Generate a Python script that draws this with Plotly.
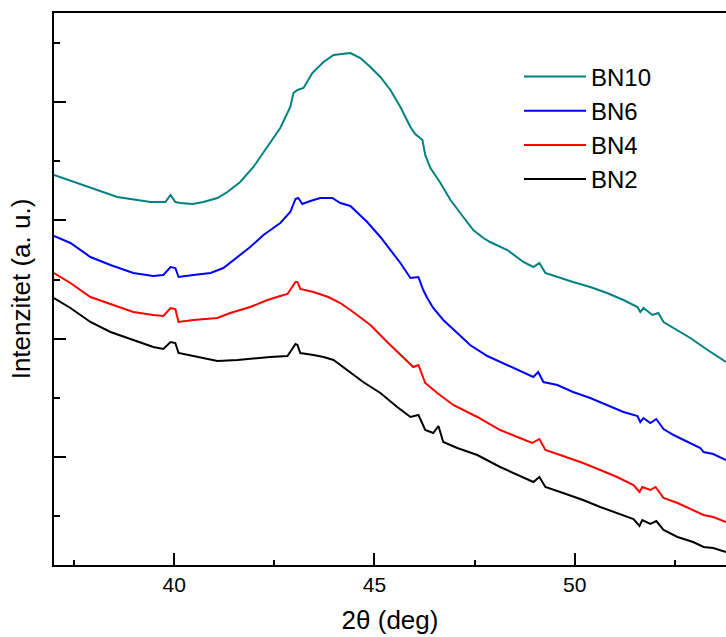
import plotly.graph_objects as go

# 2theta (deg) and intensity (a.u.)
bn10_x = [37.00, 37.74, 38.58, 39.41, 39.78, 39.91, 40.03, 40.16, 40.46, 40.73, 41.08, 41.33, 41.65, 41.98,
          42.23, 42.40, 42.65, 42.90, 42.98, 43.08, 43.23, 43.45, 43.73, 43.98, 44.40, 44.65, 44.90, 45.15,
          45.40, 45.65, 45.90, 46.02, 46.20, 46.27, 46.40, 46.65, 46.90, 47.22, 47.47, 47.72, 47.89, 48.32,
          48.72, 48.97, 49.12, 49.27, 49.57, 49.96, 50.39, 50.81, 51.22, 51.57, 51.64, 51.72, 51.94, 52.09,
          52.22, 52.57, 52.89, 53.32, 53.78]
bn10_y = [3900, 3800, 3680, 3630, 3630, 3700, 3630, 3620, 3610, 3630, 3670, 3730, 3830, 3980,
          4130, 4230, 4370, 4580, 4720, 4750, 4770, 4920, 5030, 5100, 5120, 5070, 4980, 4880,
          4750, 4580, 4380, 4310, 4250, 4100, 3970, 3820, 3650, 3480, 3350, 3270, 3230, 3150,
          3030, 2980, 3020, 2920, 2880, 2830, 2780, 2720, 2650, 2580, 2530, 2570, 2500, 2520,
          2430, 2350, 2270, 2150, 2030]

bn6_x = [37.00, 37.41, 37.91, 38.41, 38.98, 39.48, 39.73, 39.91, 40.03, 40.11, 40.48, 40.91, 41.23, 41.58,
         41.90, 42.23, 42.65, 42.90, 43.03, 43.10, 43.20, 43.40, 43.65, 43.95, 44.15, 44.40, 44.60, 44.82,
         45.15, 45.40, 45.65, 45.90, 46.10, 46.22, 46.32, 46.47, 46.72, 47.07, 47.39, 47.82, 48.32, 48.72,
         48.97, 49.09, 49.22, 49.57, 49.96, 50.39, 50.81, 51.22, 51.57, 51.64, 51.72, 51.89, 52.04, 52.22,
         52.47, 52.82, 53.14, 53.22, 53.46, 53.78]
bn6_y = [3290, 3220, 3080, 3000, 2920, 2890, 2900, 2980, 2970, 2880, 2900, 2920, 2970, 3080,
         3180, 3300, 3420, 3530, 3660, 3670, 3610, 3640, 3670, 3670, 3620, 3590, 3510, 3430,
         3280, 3150, 3020, 2870, 2880, 2750, 2670, 2570, 2450, 2320, 2200, 2090, 2000, 1920,
         1880, 1930, 1830, 1800, 1730, 1670, 1600, 1530, 1490, 1430, 1470, 1420, 1460, 1360,
         1300, 1230, 1170, 1130, 1110, 1050]

bn4_x = [37.00, 37.41, 37.91, 38.36, 38.98, 39.48, 39.73, 39.91, 40.03, 40.11, 40.48, 41.08, 41.40, 41.90,
         42.33, 42.65, 42.83, 43.03, 43.08, 43.15, 43.48, 43.85, 44.15, 44.47, 44.90, 45.32, 45.72, 45.97,
         46.10, 46.27, 46.57, 46.97, 47.57, 48.14, 48.57, 48.94, 49.12, 49.27, 49.64, 50.21, 50.64, 51.06,
         51.47, 51.62, 51.69, 51.89, 52.02, 52.22, 52.57, 52.96, 53.22, 53.46, 53.78]
bn4_y = [2920, 2820, 2680, 2620, 2530, 2500, 2490, 2570, 2560, 2430, 2450, 2470, 2520, 2580,
         2650, 2690, 2710, 2830, 2830, 2760, 2730, 2680, 2620, 2530, 2400, 2230, 2070, 1980,
         2000, 1820, 1720, 1600, 1480, 1350, 1280, 1220, 1260, 1150, 1100, 1020, 950, 880,
         800, 730, 780, 750, 780, 670, 620, 550, 500, 480, 430]

bn2_x = [37.00, 37.41, 37.91, 38.41, 38.98, 39.48, 39.73, 39.91, 40.03, 40.11, 40.48, 41.08, 41.58, 42.08,
         42.40, 42.83, 43.03, 43.08, 43.15, 43.48, 43.73, 43.98, 44.33, 44.72, 45.15, 45.57, 45.90, 46.10,
         46.27, 46.47, 46.60, 46.72, 47.07, 47.57, 48.14, 48.57, 48.97, 49.12, 49.27, 49.64, 50.21, 50.64,
         51.06, 51.47, 51.62, 51.69, 51.89, 52.04, 52.22, 52.57, 52.96, 53.22, 53.46, 53.78]
bn2_y = [2670, 2570, 2430, 2330, 2250, 2180, 2160, 2230, 2220, 2120, 2090, 2040, 2050, 2070,
         2080, 2090, 2210, 2200, 2120, 2100, 2080, 2050, 1950, 1830, 1720, 1580, 1480, 1500,
         1350, 1320, 1390, 1230, 1170, 1100, 980, 900, 830, 880, 780, 730, 650, 580,
         520, 460, 390, 450, 410, 440, 350, 280, 230, 180, 170, 130]

series = [
    ("BN10", bn10_x, bn10_y, "#008080"),
    ("BN6", bn6_x, bn6_y, "#0000FF"),
    ("BN4", bn4_x, bn4_y, "#FF0000"),
    ("BN2", bn2_x, bn2_y, "#000000"),
]

x_tick_vals = [40, 45, 50]
x_tick_text = ["40", "45", "50"]

FONT = "Arial, Liberation Sans, sans-serif"

fig = go.Figure()
for name, xs, ys, col in series:
    fig.add_trace(go.Scatter(x=xs, y=ys, mode="lines", name=name,
                             line=dict(color=col, width=2)))

fig.update_layout(
    width=726, height=637,
    margin=dict(l=54, r=0, t=13, b=72),
    paper_bgcolor="white", plot_bgcolor="white",
    font=dict(family=FONT, color="black"),
    showlegend=True,
    legend=dict(x=0.692, y=0.925, xanchor="left", yanchor="top",
                font=dict(size=24, family=FONT), bgcolor="rgba(0,0,0,0)",
                tracegroupgap=0, itemwidth=62),
    xaxis=dict(range=[37, 53.78], showgrid=False, zeroline=False,
               showline=True, linecolor="black", linewidth=2, mirror=True,
               ticks="inside", ticklen=12, tickwidth=2, tickcolor="black",
               tickvals=x_tick_vals, ticktext=x_tick_text,
               tickfont=dict(size=21, family=FONT),
               minor=dict(ticks="inside", ticklen=5, tickwidth=2, dtick=2.5, tick0=0, tickcolor="black"),
               title=dict(text="2θ (deg)", font=dict(size=26, family=FONT), standoff=16)),
    xaxis2=dict(range=[37, 53.78], overlaying="x", side="top", anchor="y", matches="x",
                showgrid=False, zeroline=False, showline=False,
                ticks="inside", ticklen=3, tickwidth=1, tickcolor="black",
                dtick=2.5, tick0=0, showticklabels=False),
    yaxis=dict(range=[0, 5520], showgrid=False, zeroline=False,
               showline=True, linecolor="black", linewidth=2, mirror=False,
               ticks="inside", ticklen=12, tickwidth=2, tickcolor="black",
               tick0=1080, dtick=1183, showticklabels=False,
               minor=dict(ticks="inside", ticklen=6, tickwidth=2, dtick=591.5, tick0=488.5, tickcolor="black"),
               title=dict(text="Intenzitet (a. u.)", font=dict(size=26, family=FONT), standoff=14)),
)

fig.write_html(
    "out.html",
    config={"displayModeBar": False},
    post_script="document.body.style.margin='0';document.body.style.overflow='hidden';",
)
